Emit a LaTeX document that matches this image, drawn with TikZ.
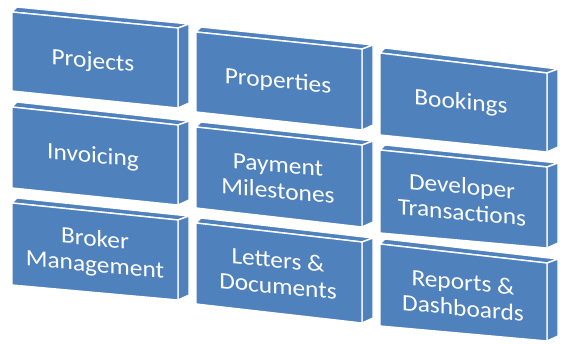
\documentclass[tikz,border=0pt]{standalone}
\usepackage{fontspec}
\setmainfont{Carlito}
\definecolor{blkblue}{HTML}{4F81BD}
\newcommand\cubebox[6]{%
  \draw[face] (#1+5,#3-5) -- (#2+11,#4-4) -- (#2,#4) -- (#1,#3) -- cycle;
  \draw[face] (#2,#4) -- (#2+11,#4-4) -- (#2+11,#6-5) -- (#2,#6) -- cycle;
  \draw[face] (#1,#3) -- (#2,#4) -- (#2,#6) -- (#1,#5) -- cycle;}
\begin{document}
\begin{tikzpicture}[x=1pt,y=-1pt,
  face/.style={fill=blkblue, draw=white, line width=1.4pt, line join=round},
  lbl/.style={text=white, font=\fontsize{23.5}{26}\selectfont, align=center, xscale=1.08, yslant=-0.1, inner sep=0pt}]
\useasboundingbox (0,0) rectangle (567,344);
% column 1
\cubebox{12}{178}{12}{28}{91}{108}
\cubebox{12}{178}{107}{125}{188}{205}
\cubebox{12}{178}{203}{220}{285}{300}
% column 2
\cubebox{196}{362}{32}{49}{112}{130}
\cubebox{196}{362}{127}{145}{208}{227}
\cubebox{196}{362}{223}{242}{304}{323}
% column 3
\cubebox{380}{547}{53}{73}{135}{152}
\cubebox{380}{547}{150}{167}{233}{248}
\cubebox{380}{547}{244}{263}{326}{341}
% labels
\node[lbl] (projects) at (93,62) {Projects};
\node[lbl] (invoicing) at (93,157) {Invoicing};
\node[lbl] (broker) at (95,253) {Broker\\Management};
\node[lbl] (properties) at (278,82) {Properties};
\node[lbl] (payment) at (278,178) {Payment\\Milestones};
\node[lbl] (letters) at (278,273) {Letters \&\\Documents};
\node[lbl] (bookings) at (461,103) {Bookings};
\node[lbl] (developer) at (462,199) {Developer\\Transactions};
\node[lbl] (reports) at (463,295) {Reports \&\\Dashboards};
\end{tikzpicture}
\end{document}
